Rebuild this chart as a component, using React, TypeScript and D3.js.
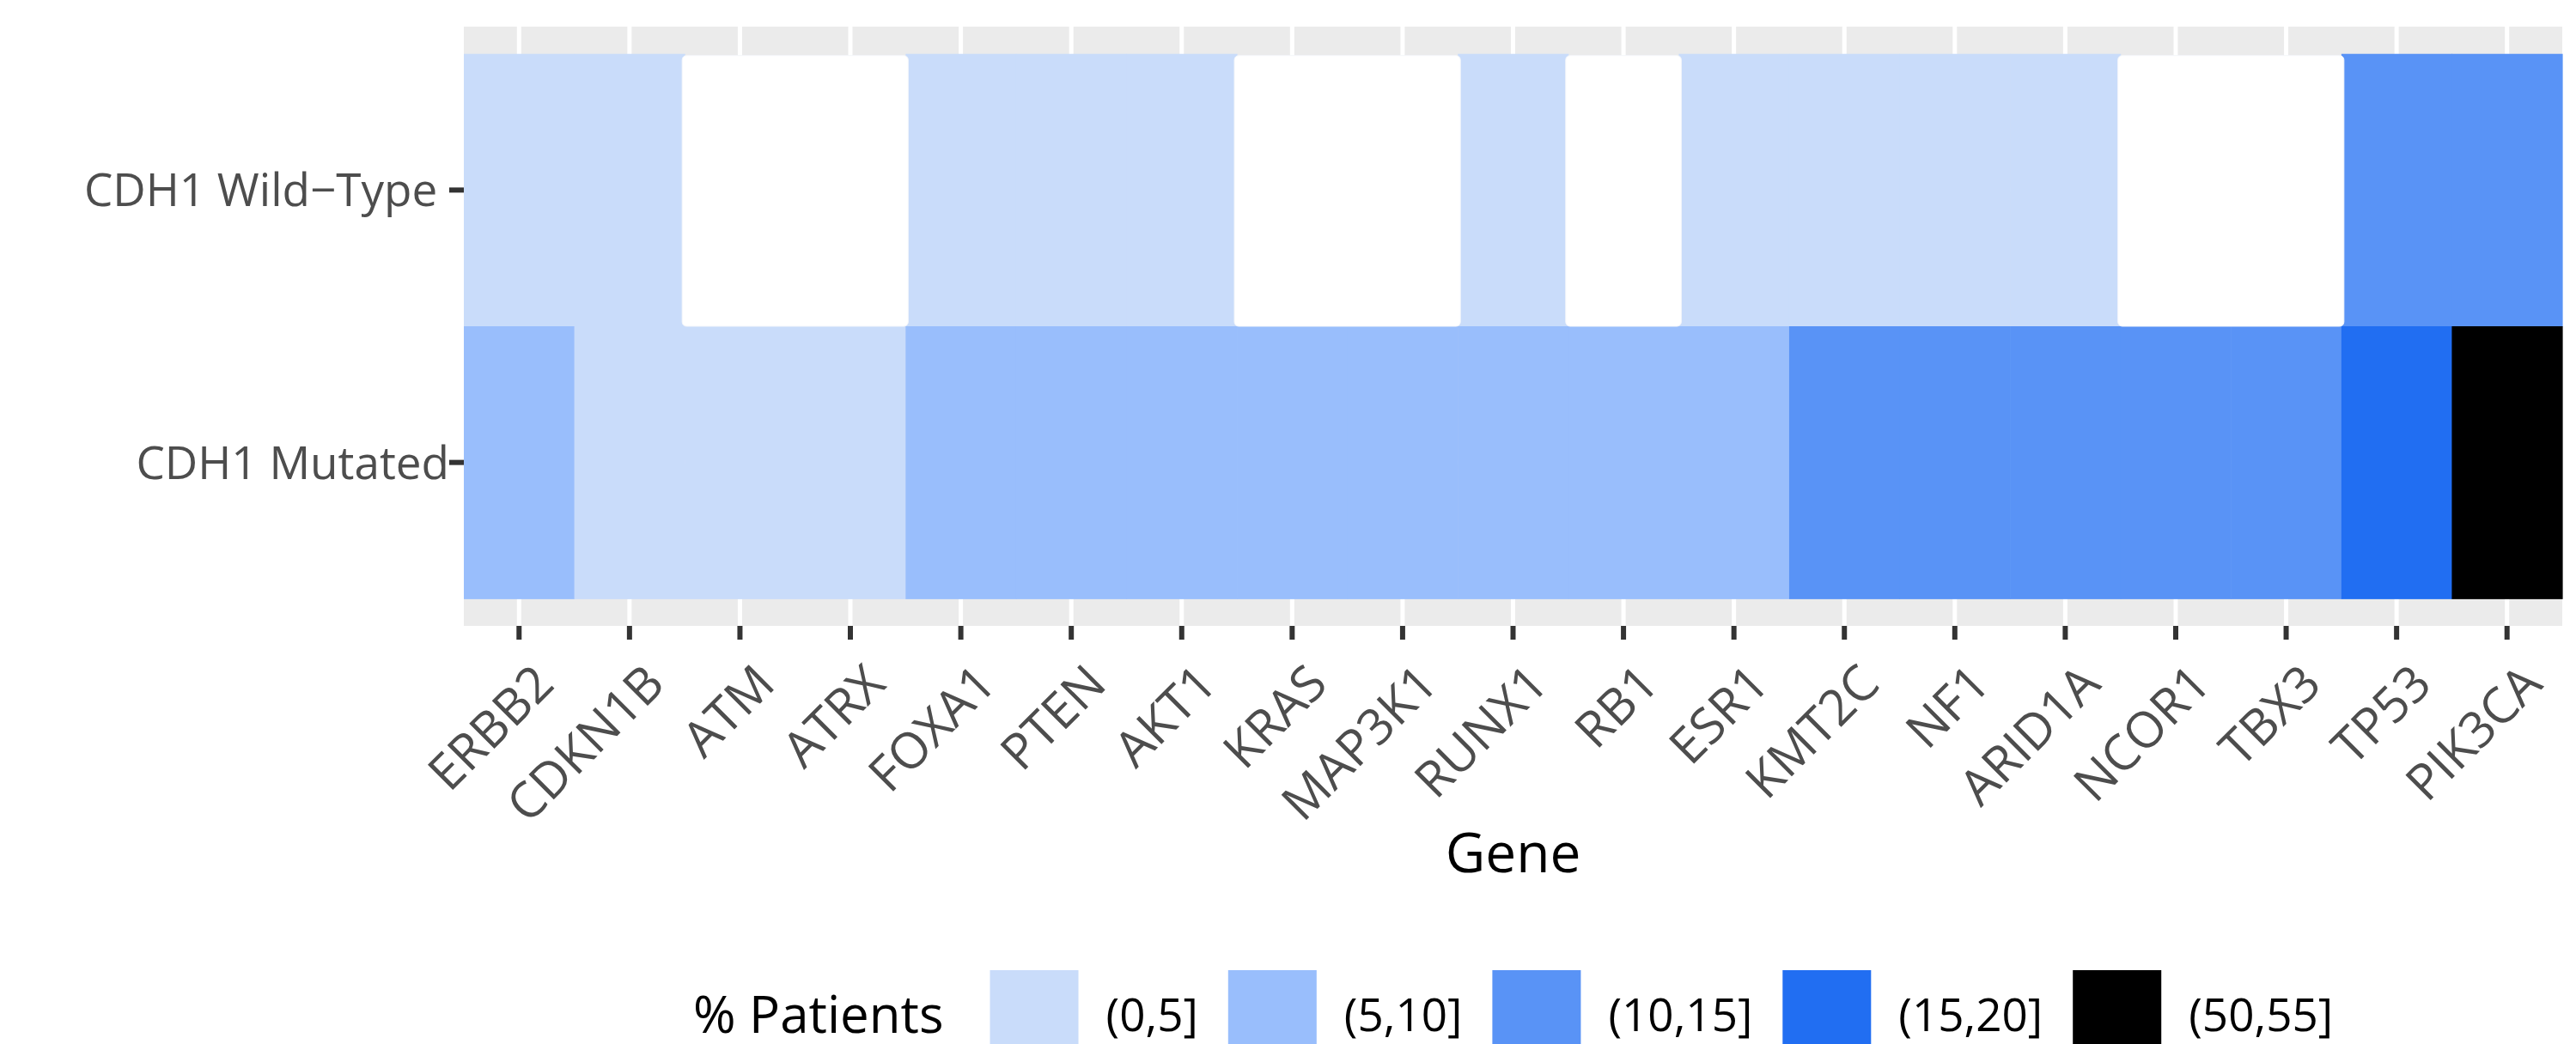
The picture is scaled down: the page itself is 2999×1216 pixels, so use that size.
import React, { useEffect } from "react";
import * as d3 from "d3";

// genes on the x axis, in plot order
const genes = [
  "ERBB2", "CDKN1B", "ATM", "ATRX", "FOXA1", "PTEN", "AKT1", "KRAS", "MAP3K1", "RUNX1",
  "RB1", "ESR1", "KMT2C", "NF1", "ARID1A", "NCOR1", "TBX3", "TP53", "PIK3CA",
];

// patient groups on the y axis (top to bottom)
const groups = ["CDH1 Wild\u2212Type ", "CDH1 Mutated"];

// % patients bin per gene (null = no mutated patients, blank cell)
const wildTypeBins = [
  "(0,5]", "(0,5]", null, null, "(0,5]", "(0,5]", "(0,5]", null, null, "(0,5]",
  null, "(0,5]", "(0,5]", "(0,5]", "(0,5]", null, null, "(10,15]", "(10,15]",
];
const mutatedBins = [
  "(5,10]", "(0,5]", "(0,5]", "(0,5]", "(5,10]", "(5,10]", "(5,10]", "(5,10]", "(5,10]", "(5,10]",
  "(5,10]", "(5,10]", "(10,15]", "(10,15]", "(10,15]", "(10,15]", "(10,15]", "(15,20]", "(50,55]",
];

const bins = ["(0,5]", "(5,10]", "(10,15]", "(15,20]", "(50,55]"];
const binColors = ["#C9DCFA", "#99BEFC", "#5993F6", "#216EF2", "#000000"];

const W = 2999;
const H = 1216;
const FONT = "'Open Sans', 'Noto Sans', sans-serif";

const measure = (text: string, size: number) => {
  const ctx = document.createElement("canvas").getContext("2d")!;
  ctx.font = `${size}px "Open Sans"`;
  return ctx.measureText(text).width;
};

const App = () => {
  useEffect(() => {
    document.body.style.margin = "0";
  }, []);

  const panel = { left: 540, right: 2983, top: 31, bottom: 729 };

  const x = d3.scaleBand<string>().domain(genes).range([panel.left, panel.right]).padding(0);
  const y = d3
    .scaleBand<string>()
    .domain(groups)
    .range([panel.top, panel.bottom])
    .paddingInner(0)
    .paddingOuter(0.1);
  const fill = d3.scaleOrdinal<string, string>().domain(bins).range(binColors);

  const rows = [wildTypeBins, mutatedBins];
  const cells = rows.flatMap((row, r) =>
    row.map((bin, i) => ({ gene: genes[i], group: groups[r], bin }))
  );

  // runs of empty cells get one white box
  const blanks: { group: string; start: string; end: string }[] = [];
  rows.forEach((row, r) => {
    let i = 0;
    while (i < row.length) {
      if (row[i] === null) {
        let j = i;
        while (j + 1 < row.length && row[j + 1] === null) j++;
        blanks.push({ group: groups[r], start: genes[i], end: genes[j] });
        i = j + 1;
      } else i++;
    }
  });

  // legend layout, centred under the panel
  const titleSize = 60;
  const labelSize = 53;
  const keyW = 103;
  const title = "% Patients";
  const titleW = measure(title, titleSize);
  const labelWs = bins.map((b) => measure(b, labelSize));
  const titleGap = 54;
  const keyLabelGap = 32;
  const itemGap = 35;
  const totalW =
    titleW + titleGap + d3.sum(labelWs, (w) => keyW + keyLabelGap + w) + itemGap * (bins.length - 1);
  const legendX = (panel.left + panel.right) / 2 - totalW / 2;
  const keyTop = 1130;
  const keyMid = keyTop + keyW / 2;
  let cursor = legendX + titleW + titleGap;
  const legendItems = bins.map((b, i) => {
    const item = { bin: b, keyX: cursor, labelX: cursor + keyW + keyLabelGap };
    cursor += keyW + keyLabelGap + labelWs[i] + itemGap;
    return item;
  });

  const bw = x.bandwidth();

  return (
    <svg
      width={W}
      height={H}
      style={{ display: "block", position: "absolute", left: 0, top: 0, fontFamily: FONT }}
    >
      <rect width={W} height={H} fill="#ffffff" />

      {/* panel background and grid */}
      <rect
        x={panel.left}
        y={panel.top}
        width={panel.right - panel.left}
        height={panel.bottom - panel.top}
        fill="#EBEBEB"
      />
      {genes.map((g) => (
        <line
          key={g}
          x1={x(g)! + bw / 2}
          x2={x(g)! + bw / 2}
          y1={panel.top}
          y2={panel.bottom}
          stroke="#ffffff"
          strokeWidth={5}
        />
      ))}
      {groups.map((g) => (
        <line
          key={g}
          x1={panel.left}
          x2={panel.right}
          y1={y(g)! + y.bandwidth() / 2}
          y2={y(g)! + y.bandwidth() / 2}
          stroke="#ffffff"
          strokeWidth={5}
        />
      ))}

      {/* tiles */}
      {cells
        .filter((c) => c.bin !== null)
        .map((c) => (
          <rect
            key={c.gene + c.group}
            x={x(c.gene)!}
            y={y(c.group)!}
            width={bw + 0.6}
            height={y.bandwidth() + 0.6}
            fill={fill(c.bin as string)}
          />
        ))}
      {blanks.map((b) => (
        <rect
          key={b.group + b.start}
          x={x(b.start)! - 3}
          y={y(b.group)! + 2}
          width={x(b.end)! + bw - x(b.start)! + 6}
          height={y.bandwidth() - 2}
          rx={5}
          fill="#ffffff"
          stroke="#f4f6fa"
          strokeWidth={1}
        />
      ))}

      {/* y axis */}
      {groups.map((g) => (
        <g key={g} transform={`translate(0,${y(g)! + y.bandwidth() / 2})`}>
          <line x1={panel.left - 17} x2={panel.left} stroke="#333333" strokeWidth={6} />
          <text
            x={panel.left - 17}
            dy="0.36em"
            textAnchor="end"
            fontSize={53}
            fill="#4D4D4D"
            style={{ whiteSpace: "pre" }}
          >
            {g}
          </text>
        </g>
      ))}

      {/* x axis */}
      {genes.map((g) => {
        const cx = x(g)! + bw / 2;
        return (
          <g key={g}>
            <line x1={cx} x2={cx} y1={panel.bottom} y2={panel.bottom + 16} stroke="#333333" strokeWidth={6} />
            <text
              transform={`translate(${cx + 14},${770}) rotate(-45)`}
              textAnchor="end"
              dy="0.72em"
              fontSize={58}
              fill="#4D4D4D"
            >
              {g}
            </text>
          </g>
        );
      })}
      <text x={(panel.left + panel.right) / 2} y={1016} textAnchor="middle" fontSize={64} fill="#000000">
        Gene
      </text>

      {/* legend */}
      <text x={legendX} y={keyMid + titleSize * 0.36} fontSize={titleSize} fill="#000000">
        {title}
      </text>
      {legendItems.map((it) => (
        <g key={it.bin}>
          <rect x={it.keyX} y={keyTop} width={keyW} height={keyW} fill={fill(it.bin)} />
          <text x={it.labelX} y={keyMid} dy="0.36em" fontSize={labelSize} fill="#000000">
            {it.bin}
          </text>
        </g>
      ))}
    </svg>
  );
};

export default App;
